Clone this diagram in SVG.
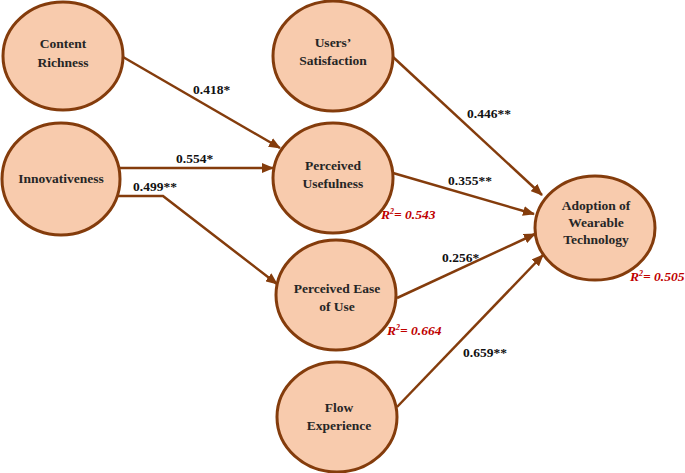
<svg xmlns="http://www.w3.org/2000/svg" width="685" height="473" viewBox="0 0 685 473">
<style>
.n{fill:#F8CBAD;stroke:#843C0C;stroke-width:3}
.t{font-family:"Liberation Serif",serif;font-weight:bold;font-size:13.5px;fill:#262626;text-anchor:middle}
.c{fill:none;stroke:#843C0C;stroke-width:2.5}
.l{font-family:"Liberation Serif",serif;font-weight:bold;font-size:13.5px;fill:#111}
.r{font-family:"Liberation Serif",serif;font-weight:bold;font-style:italic;font-size:13.5px;fill:#C00000}
</style>
<defs>
<marker id="a" markerWidth="12" markerHeight="10" refX="11" refY="5" orient="auto" markerUnits="userSpaceOnUse">
<path d="M0,0 L12,5 L0,10 Z" fill="#843C0C"/>
</marker>
</defs>
<g id="connectors">
<line class="c" x1="123" y1="57" x2="280" y2="148" marker-end="url(#a)"/>
<line class="c" x1="120" y1="168" x2="273" y2="168" marker-end="url(#a)"/>
<polyline class="c" points="118,196 163,196 277,284" marker-end="url(#a)"/>
<line class="c" x1="393" y1="57" x2="542" y2="195" marker-end="url(#a)"/>
<line class="c" x1="393" y1="173" x2="534" y2="214" marker-end="url(#a)"/>
<line class="c" x1="397" y1="298" x2="535" y2="234" marker-end="url(#a)"/>
<line class="c" x1="397" y1="407" x2="543" y2="255" marker-end="url(#a)"/>
<text class="l" x="193" y="94">0.418*</text>
<text class="l" x="176" y="163">0.554*</text>
<text class="l" x="133" y="191">0.499**</text>
<text class="l" x="467" y="118">0.446**</text>
<text class="l" x="448" y="185">0.355**</text>
<text class="l" x="442" y="262">0.256*</text>
<text class="l" x="463" y="357">0.659**</text>
</g>
<g id="content-richness">
<ellipse class="n" cx="63" cy="56" rx="60" ry="54"/>
<text class="t" x="63" y="48">Content</text>
<text class="t" x="63" y="67">Richness</text>
</g>
<g id="innovativeness">
<ellipse class="n" cx="61" cy="179" rx="59" ry="56"/>
<text class="t" x="61" y="183">Innovativeness</text>
</g>
<g id="users-satisfaction">
<ellipse class="n" cx="333" cy="56" rx="60" ry="55"/>
<text class="t" x="333" y="47">Users’</text>
<text class="t" x="333" y="65">Satisfaction</text>
</g>
<g id="perceived-usefulness">
<ellipse class="n" cx="333" cy="178" rx="60" ry="55"/>
<text class="t" x="333" y="170">Perceived</text>
<text class="t" x="333" y="188">Usefulness</text>
<text class="r" x="381" y="219">R<tspan font-size="8" dy="-5">2</tspan><tspan dy="5">= 0.543</tspan></text>
</g>
<g id="perceived-ease-of-use">
<ellipse class="n" cx="336" cy="295" rx="60" ry="55"/>
<text class="t" x="337" y="293">Perceived Ease</text>
<text class="t" x="337" y="311">of Use</text>
<text class="r" x="387" y="335">R<tspan font-size="8" dy="-5">2</tspan><tspan dy="5">= 0.664</tspan></text>
</g>
<g id="flow-experience">
<ellipse class="n" cx="337" cy="417" rx="60" ry="55"/>
<text class="t" x="339" y="412">Flow</text>
<text class="t" x="339" y="430">Experience</text>
</g>
<g id="adoption">
<ellipse class="n" cx="595" cy="228" rx="60" ry="52"/>
<text class="t" x="596" y="210">Adoption of</text>
<text class="t" x="596" y="227">Wearable</text>
<text class="t" x="596" y="244">Technology</text>
<text class="r" x="630" y="281">R<tspan font-size="8" dy="-5">2</tspan><tspan dy="5">= 0.505</tspan></text>
</g>
</svg>
